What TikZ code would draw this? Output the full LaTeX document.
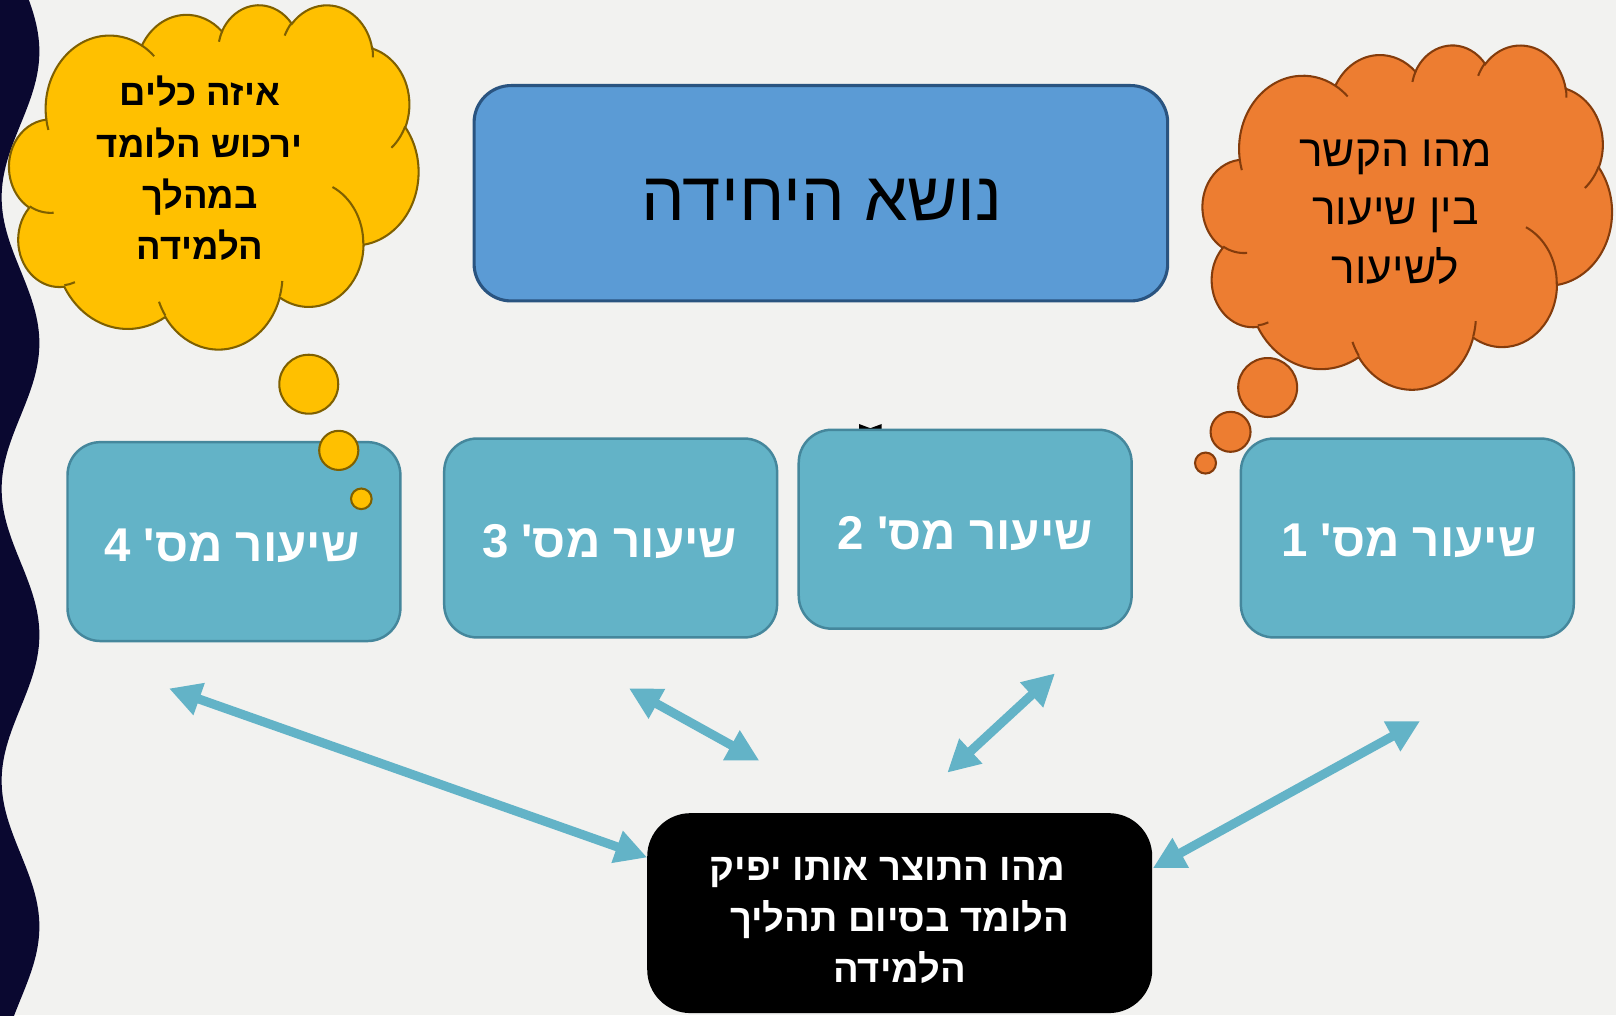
\documentclass[tikz,border=0pt]{standalone}
\usepackage{fontspec}
\newfontfamily\hebfont[Script=Hebrew]{Liberation Sans}
\TeXXeTstate=1
\usetikzlibrary{arrows.meta}
\definecolor{bgc}{HTML}{F2F2F0}
\definecolor{navy}{HTML}{0A0830}
\definecolor{lessonfill}{HTML}{63B3C7}
\definecolor{lessonline}{HTML}{45879C}
\definecolor{titlefill}{HTML}{5B9BD5}
\definecolor{titleline}{HTML}{2A5480}
\definecolor{yfill}{HTML}{FFC000}
\definecolor{yline}{HTML}{7F6000}
\definecolor{ofill}{HTML}{ED7D31}
\definecolor{oline}{HTML}{843C0C}
\definecolor{arrowc}{HTML}{63B3C7}

\makeatletter
\newcommand\cldpath{}
\newcommand\cldreset{\gdef\cldpath{}}
\newcommand\cldmove[2]{\xdef\cldpath{\cldpath (#1,#2)}}
\newcommand\cldarc[4]{%
  \pgfmathsetmacro\cld@a{atan2((#1)*sin(#3),(#2)*cos(#3))}%
  \pgfmathsetmacro\cld@b{atan2((#1)*sin((#3)+(#4)),(#2)*cos((#3)+(#4)))}%
  \pgfmathsetmacro\cld@d{mod(\cld@b-\cld@a+720,360)}%
  \xdef\cldpath{\cldpath arc[start angle=\cld@a, delta angle=\cld@d, x radius=#1, y radius=#2]}}
\makeatother

\cldreset
\cldmove{39.00}{143.70}
\cldarc{67.53}{91.90}{-190.4875}{123.7805}
\cldarc{53.33}{72.67}{-144.1024}{89.9452}
\cldarc{43.65}{59.45}{-145.8079}{99.7230}
\cldarc{48.57}{65.95}{-130.9861}{117.2417}
\cldarc{53.33}{72.73}{-78.7089}{109.0269}
\cldarc{67.75}{92.20}{-46.2673}{130.2690}
\cldarc{57.85}{78.67}{0.6250}{114.0333}
\cldarc{67.52}{92.15}{22.4516}{115.1726}
\cldarc{77.20}{105.43}{66.2426}{75.7110}
\cldarc{43.60}{59.18}{-274.9421}{146.7356}
\cldarc{43.45}{59.45}{-246.8285}{152.5189}
\global\let\cldouter\cldpath

\cldreset
\cldmove{46.93}{261.77}\cldarc{43.45}{59.45}{86.7420}{26.4295}
\cldmove{69.28}{348.99}\cldarc{43.60}{59.18}{73.6105}{11.4475}
\cldmove{164.78}{390.90}\cldarc{67.52}{92.15}{137.6242}{14.0811}
\cldmove{288.27}{347.51}\cldarc{67.52}{92.15}{6.4533}{15.9984}
\cldmove{341.29}{229.54}\cldarc{57.85}{78.67}{-70.2924}{70.9174}
\cldmove{417.98}{153.54}\cldarc{53.33}{72.73}{30.3180}{27.7515}
\cldmove{383.24}{54.26}\cldarc{48.57}{65.95}{-13.7443}{14.8589}
\cldmove{290.78}{39.52}\cldarc{48.57}{65.95}{-149.1815}{18.1954}
\cldmove{221.41}{47.20}\cldarc{43.65}{59.45}{-163.4943}{17.6864}
\cldmove{140.00}{51.92}\cldarc{67.53}{91.90}{-66.7070}{12.3194}
\cldmove{41.27}{157.89}\cldarc{67.53}{91.90}{157.6544}{11.8582}
\global\let\cldinner\cldpath

\newcommand\thoughtcloud[6]{%
  \pgfmathsetmacro\cldxu{(#3)/432*0.5}%
  \pgfmathsetmacro\cldyu{-(#4)/432*0.5}%
  \begin{scope}[shift={(#1,#2)}, x=\cldxu pt, y=\cldyu pt]
    \filldraw[fill=#5, draw=#6, line width=1pt] \cldouter -- cycle;
    \draw[draw=#6, line width=1pt] \cldinner;
  \end{scope}}

\tikzset{
  lesson/.style={draw=lessonline, fill=lessonfill, line width=1.2pt, rounded corners=16pt,
    inner sep=0pt, minimum width=161.5pt, minimum height=96.5pt},
  lessontext/.style={anchor=base, text=white, inner sep=0pt,
    font=\hebfont\bfseries\fontsize{23}{28}\selectfont},
  bubble/.style={circle, inner sep=0pt, line width=1pt},
  biarrow/.style={draw=arrowc, line width=4.4pt,
    arrows={Triangle[length=15.5pt,width=15.5pt]-Triangle[length=15.5pt,width=15.5pt]}},
}

\begin{document}
\begin{tikzpicture}[x=0.5pt, y=-0.5pt]
\useasboundingbox (0,0) rectangle (1568,985);
\fill[bgc] (0,0) rectangle (1568,985);
% left wave band
\fill[navy] (0,-5) -- plot[domain=-5:990, samples=240, variable=\t]
  ({19.9+18.3*cos(1.27208*(\t-50))},{\t}) -- (0,990) -- cycle;

% small mark behind lesson 2
\fill[black] (833.5,411.4) -- (844.5,415.5) -- (855.5,411.4) -- (855.5,418) -- (833.5,418) -- cycle;

% title
\node[draw=titleline, fill=titlefill, line width=1.5pt, rounded corners=18pt,
  inner sep=0pt, minimum width=336.5pt, minimum height=104.5pt] (T) at (796.5,187.5) {};
\node[anchor=base, inner sep=0pt, font=\hebfont\fontsize{33.5}{40}\selectfont] (Tt) at (797.5,213.5)
  {\beginR נושא היחידה\endR};

% lessons
\node[lesson] (L4) at (227,525.5) {};
\node[lesson] (L3) at (592.5,522) {};
\node[lesson] (L2) at (936.5,513.5) {};
\node[lesson] (L1) at (1365.5,522) {};
\node[lessontext] (L4t) at (225,545) {\beginR שיעור מס' 4\endR};
\node[lessontext] (L3t) at (591.5,541) {\beginR שיעור מס' 3\endR};
\node[lessontext] (L2t) at (936.5,533) {\beginR שיעור מס' 2\endR};
\node[lessontext] (L1t) at (1367,540) {\beginR שיעור מס' 1\endR};

% product box
\node[fill=black, rounded corners=21pt, inner sep=0pt, minimum width=245pt, minimum height=97pt] (P) at (873,886) {};
\node[anchor=base, align=center, inner sep=0pt, text=white,
  font=\hebfont\bfseries\fontsize{18.5}{24.75}\selectfont] (Pt) at (873,953)
  {\beginR\hspace*{12pt}מהו התוצר אותו יפיק\endR\\\beginR הלומד בסיום תהליך\endR\\\beginR הלמידה\endR};

% arrows
\coordinate (a4s) at (164,668);    \coordinate (a4e) at (628,832);
\coordinate (a3s) at (610.3,667.9); \coordinate (a3e) at (736.8,738.1);
\coordinate (a2s) at (1023.7,653.3); \coordinate (a2e) at (919.2,749.7);
\coordinate (a1s) at (1377.9,699.6); \coordinate (a1e) at (1118.5,842.5);
\draw[biarrow] (a4s) -- (a4e);
\draw[biarrow] (a3s) -- (a3e);
\draw[biarrow] (a2s) -- (a2e);
\draw[biarrow] (a1s) -- (a1e);

% yellow thought cloud
\thoughtcloud{9}{4}{397}{334}{yfill}{yline}
\node[bubble, fill=yfill, draw=yline, minimum size=28.6pt] (yb1) at (299.6,372.8) {};
\node[bubble, fill=yfill, draw=yline, minimum size=19pt] (yb2) at (328.7,437) {};
\node[bubble, fill=yfill, draw=yline, minimum size=10pt] (yb3) at (350.6,484) {};
\node[anchor=base, align=center, inner sep=0pt,
  font=\hebfont\bfseries\fontsize{17.7}{24.8}\selectfont] (Yt) at (194,251.6)
  {\beginR איזה כלים\endR\\\beginR ירכוש הלומד\endR\\\beginR במהלך\endR\\\beginR הלמידה\endR};

% orange thought cloud
\thoughtcloud{1167}{43}{397}{334}{ofill}{oline}
\node[bubble, fill=ofill, draw=oline, minimum size=28.6pt] (ob1) at (1230,376) {};
\node[bubble, fill=ofill, draw=oline, minimum size=19.4pt] (ob2) at (1194,419) {};
\node[bubble, fill=ofill, draw=oline, minimum size=10.2pt] (ob3) at (1169.7,449.3) {};
\node[anchor=base, align=center, inner sep=0pt,
  font=\hebfont\fontsize{21.5}{28.3}\selectfont] (Ot) at (1354,274.9)
  {\beginR מהו הקשר\endR\\\beginR בין שיעור\endR\\\beginR לשיעור\endR};
\end{tikzpicture}
\end{document}
